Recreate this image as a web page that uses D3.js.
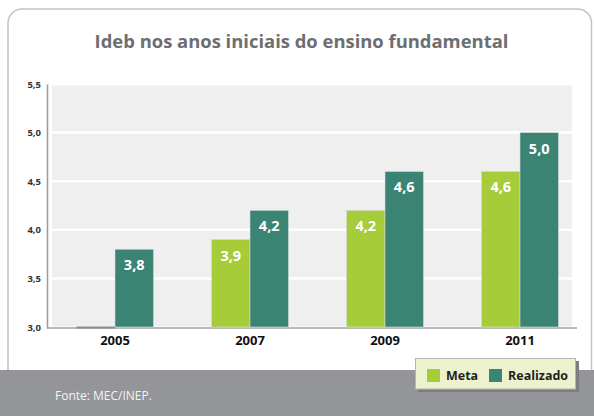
<!DOCTYPE html>
<html><head><meta charset="utf-8">
<script src="https://cdn.jsdelivr.net/npm/d3@7/dist/d3.min.js"></script>
<style>
html,body{margin:0;padding:0;background:#fff;}
svg{display:block;}
text{font-family:"Open Sans",sans-serif;}
</style></head>
<body>
<script>
const title = "Ideb nos anos iniciais do ensino fundamental";
const years = ["2005", "2007", "2009", "2011"];
const series = ["Meta", "Realizado"];
const meta = [null, 3.9, 4.2, 4.6];
const realizado = [3.8, 4.2, 4.6, 5.0];
const yTicks = [3.0, 3.5, 4.0, 4.5, 5.0, 5.5];
const source = "Fonte: MEC/INEP.";
const colors = {Meta: "#a6cd39", Realizado: "#3b8474"};

const W = 594, H = 416;
const svg = d3.select("body").append("svg").attr("width", W).attr("height", H);

const fmt = v => d3.format(".1f")(v).replace(".", ",");
function fit(sel, target) {
  const s = parseFloat(sel.attr("font-size"));
  const len = sel.node().getComputedTextLength();
  sel.attr("font-size", (s * target / len).toFixed(2));
}

// card
svg.append("rect").attr("x", 8).attr("y", 9).attr("width", 583.5).attr("height", 420)
  .attr("rx", 14).attr("fill", "#fff").attr("stroke", "#c4c4c4").attr("stroke-width", 1.5);

// title
const t = svg.append("text").attr("x", 301.5).attr("y", 48).attr("text-anchor", "middle")
  .attr("font-size", 20).attr("font-weight", "bold").attr("fill", "#6d6e71").text(title);
fit(t, 414);

// scales
const x = d3.scaleBand().domain(years).range([47.5, 587.5]).paddingInner(0.43).paddingOuter(0.215);
const xs = d3.scaleBand().domain(series).range([0, x.bandwidth()]);
const y = d3.scaleLinear().domain([3.0, 5.5]).range([327, 84]);

// plot background
svg.append("rect").attr("x", 52).attr("y", y(5.5) + 1.5).attr("width", 520)
  .attr("height", y(3.0) - y(5.5) - 2).attr("fill", "#efefef");

// gridlines
svg.append("g").selectAll("line").data(yTicks.filter(v => v > 3 && v < 5.5)).join("line")
  .attr("x1", 52).attr("x2", 572).attr("y1", d => y(d)).attr("y2", d => y(d))
  .attr("stroke", "#fff").attr("stroke-width", 2.5);

// y axis labels
const ya = svg.append("g").attr("transform", "translate(41,0)")
  .call(d3.axisLeft(y).tickValues(yTicks).tickFormat(fmt).tickSize(0).tickPadding(0));
ya.select(".domain").remove();
ya.selectAll("text").attr("font-family", "'Open Sans',sans-serif").attr("font-size", 9.5)
  .attr("font-weight", "bold").attr("fill", "#333");

// axis lines
svg.append("line").attr("x1", 47.5).attr("x2", 47.5).attr("y1", y(5.5) + 0.5).attr("y2", y(3.0) + 1.5)
  .attr("stroke", "#9d9d9d").attr("stroke-width", 1.6);
svg.append("line").attr("x1", 47).attr("x2", 577).attr("y1", y(3.0) + 1).attr("y2", y(3.0) + 1)
  .attr("stroke", "#a3a3a3").attr("stroke-width", 1.6);

// bars
const rows = years.map((yr, i) => ({year: yr, vals: [{s: "Meta", v: meta[i]}, {s: "Realizado", v: realizado[i]}]}));
const g = svg.append("g").selectAll("g").data(rows).join("g")
  .attr("transform", d => `translate(${x(d.year)},0)`);
g.selectAll("rect.bar").data(d => d.vals.filter(e => e.v != null)).join("rect").attr("class", "bar")
  .attr("x", d => xs(d.s)).attr("width", xs.bandwidth())
  .attr("y", d => y(d.v)).attr("height", d => y(3.0) - y(d.v))
  .attr("fill", d => colors[d.s]).attr("stroke", "#d3dcd6").attr("stroke-width", 0.6);
g.selectAll("line.miss").data(d => d.vals.filter(e => e.v == null)).join("line").attr("class", "miss")
  .attr("x1", d => xs(d.s)).attr("x2", d => xs(d.s) + xs.bandwidth())
  .attr("y1", y(3.0) + 0.5).attr("y2", y(3.0) + 0.5).attr("stroke", "#8c8c8c").attr("stroke-width", 2);
g.selectAll("text.val").data(d => d.vals.filter(e => e.v != null)).join("text").attr("class", "val")
  .attr("x", d => xs(d.s) + xs.bandwidth() / 2).attr("y", d => y(d.v) + 21)
  .attr("text-anchor", "middle").attr("font-size", 14.5).attr("font-weight", "bold")
  .attr("fill", "#fff").text(d => fmt(d.v));

// x axis labels
const xa = svg.append("g").attr("transform", `translate(0,${y(3.0)})`)
  .call(d3.axisBottom(x).tickSize(0).tickPadding(9));
xa.select(".domain").remove();
xa.selectAll("text").attr("font-family", "'Open Sans',sans-serif").attr("font-size", 13)
  .attr("font-weight", "bold").attr("fill", "#111").attr("dy", "0.71em");

// bottom band
svg.append("rect").attr("x", 0).attr("y", 370).attr("width", W).attr("height", H - 370).attr("fill", "#939598");
svg.append("text").attr("x", 55).attr("y", 400).attr("font-size", 12).attr("fill", "#f4f4f4").text(source);

// legend
svg.append("rect").attr("x", 418).attr("y", 361).attr("width", 161).attr("height", 31).attr("fill", "#7c7d80");
svg.append("rect").attr("x", 415.5).attr("y", 358.5).attr("width", 160).attr("height", 30.5)
  .attr("fill", "#ebf2cd").attr("stroke", "#b5b5b5").attr("stroke-width", 1);
const legX = {Meta: 427, Realizado: 489};
const lg = svg.append("g").selectAll("g").data(series).join("g")
  .attr("transform", d => `translate(${legX[d]},369)`);
lg.append("rect").attr("width", 13).attr("height", 13).attr("fill", d => colors[d]);
lg.append("text").attr("x", 19).attr("y", 11).attr("font-size", 12.5).attr("font-weight", "bold")
  .attr("fill", "#231f20").text(d => d);
</script>
</body></html>
